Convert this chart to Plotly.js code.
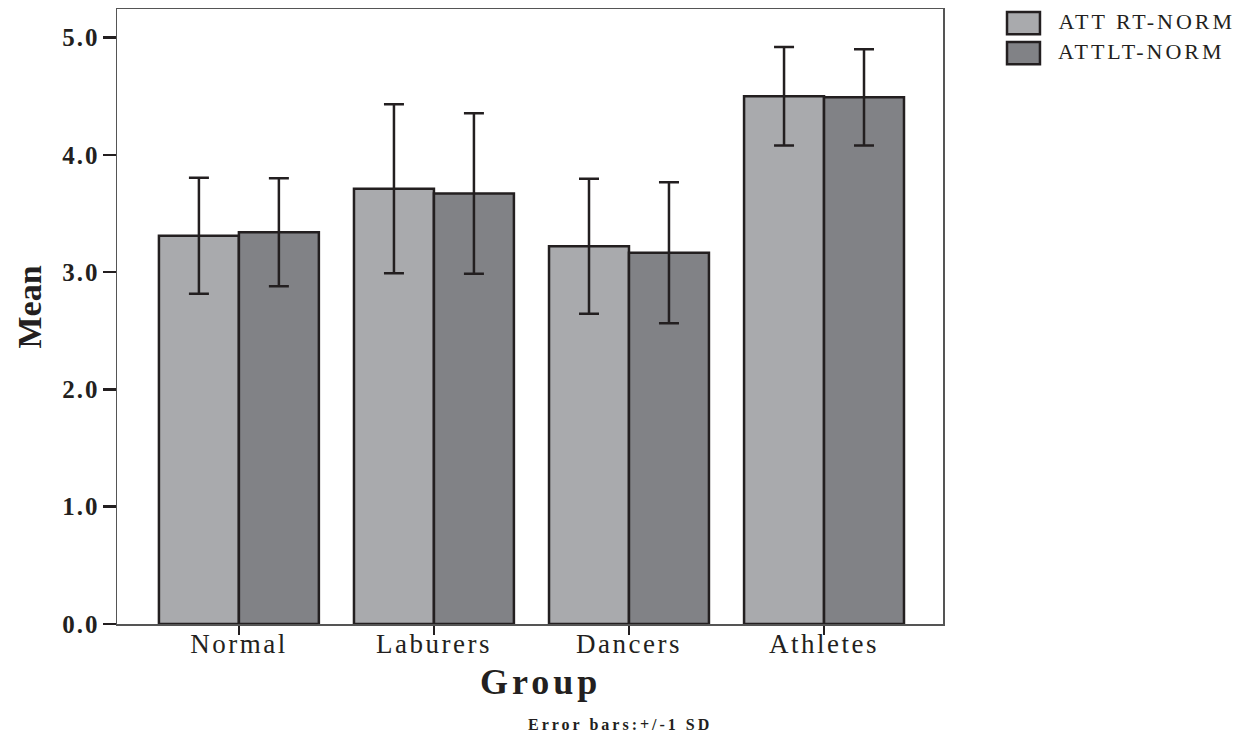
<!DOCTYPE html>
<html>
<head>
<meta charset="utf-8">
<script src="https://cdn.plot.ly/plotly-3.0.1.min.js"></script>
<style>
html,body{margin:0;padding:0;background:#fff;}
#chart{width:1255px;height:733px;}
#chart .xtick text{letter-spacing:2.5px;}
#chart .ytick text{letter-spacing:2px;}
</style>
</head>
<body>
<div id="chart"></div>
<script>
const categories = ["Normal", "Laburers", "Dancers", "Athletes"];
const seriesNames = ["ATT RT-NORM", "ATTLT-NORM"];
const seriesColors = ["#a9aaad", "#818286"];
const rtMeans = [3.31, 3.71, 3.22, 4.50];
const rtSD = [0.495, 0.72, 0.575, 0.42];
const ltMeans = [3.34, 3.67, 3.165, 4.49];
const ltSD = [0.46, 0.685, 0.60, 0.41];
const yTicks = [0, 1, 2, 3, 4, 5];
const yTickLabels = ["0.0", "1.0", "2.0", "3.0", "4.0", "5.0"];

const ink = "#231f20";
const serif = "Liberation Serif, Times New Roman, serif";

function barTrace(name, means, sds, color) {
  return {
    type: "bar", name: name, x: categories, y: means,
    marker: {color: color, line: {color: ink, width: 2.5}},
    error_y: {type: "data", array: sds, visible: true, color: ink, thickness: 2.5, width: 10}
  };
}

const data = [
  barTrace(seriesNames[0], rtMeans, rtSD, seriesColors[0]),
  barTrace(seriesNames[1], ltMeans, ltSD, seriesColors[1])
];

// custom legend (wide swatches, as in the reference)
const legLS = 3;
const legShapes = [], legAnns = [];
const legTop = [0.9951, 0.9463];
seriesNames.forEach((n, i) => {
  legShapes.push({type: "rect", xref: "paper", yref: "paper", x0: 1.0775, x1: 1.1174,
    y0: legTop[i] - 0.036, y1: legTop[i], fillcolor: seriesColors[i], line: {color: ink, width: 2.5}});
  // letter-spacing widens the text around its centre; compensate so it starts at the same place
  const shift = (n.length * legLS / 2) / 826;
  legAnns.push({text: n, xref: "paper", yref: "paper", x: 1.137 + shift, y: legTop[i] - 0.016,
    xanchor: "left", yanchor: "middle", showarrow: false, font: {family: serif, size: 22, color: ink}});
});

const layout = {
  width: 1255, height: 733,
  margin: {l: 117, r: 312, t: 9, b: 109, autoexpand: false},
  paper_bgcolor: "#fff", plot_bgcolor: "#fff",
  barmode: "group", bargap: 0.18, bargroupgap: 0,
  showlegend: false,
  xaxis: {
    range: [-0.625, 3.61], showline: true, linecolor: "#555", linewidth: 1.5, mirror: true,
    ticks: "outside", ticklen: 9, tickwidth: 2, tickcolor: ink, automargin: false,
    ticklabelstandoff: -14,
    tickfont: {family: serif, size: 27, color: ink}, showgrid: false, zeroline: false
  },
  yaxis: {
    range: [0, 5.243], showline: true, linecolor: "#555", linewidth: 1.5, mirror: true,
    tickmode: "array", tickvals: yTicks, ticktext: yTickLabels, automargin: false,
    ticks: "outside", ticklen: 13, tickwidth: 2.5, tickcolor: ink, ticklabelstandoff: -2,
    tickfont: {family: serif, size: 25, color: ink, weight: "bold"}, showgrid: false, zeroline: false
  },
  shapes: legShapes,
  annotations: legAnns.concat([
    {text: "<b>Mean</b>", xref: "paper", yref: "paper", x: -0.1065, y: 0.5146, xanchor: "center", yanchor: "middle",
      textangle: -90, showarrow: false, font: {family: serif, size: 34, color: ink}},
    {text: "<b>Group</b>", xref: "paper", yref: "paper", x: 0.5133, y: -0.095, xanchor: "center", yanchor: "middle",
      showarrow: false, font: {family: serif, size: 36, color: ink}},
    {text: "<b>Error bars:+/-1 SD</b>", xref: "paper", yref: "paper", x: 0.609, y: -0.164, xanchor: "center", yanchor: "middle",
      showarrow: false, font: {family: serif, size: 16, color: ink}}
  ])
};

const spacing = {"Group": "4px", "Error bars:+/-1 SD": "3px", "ATT RT-NORM": legLS + "px", "ATTLT-NORM": legLS + "px"};
Plotly.newPlot("chart", data, layout, {displayModeBar: false, staticPlot: true}).then(gd => {
  gd.querySelectorAll(".annotation-text").forEach(t => {
    const ls = spacing[t.textContent];
    if (ls) t.style.letterSpacing = ls;
  });
});
</script>
</body>
</html>
